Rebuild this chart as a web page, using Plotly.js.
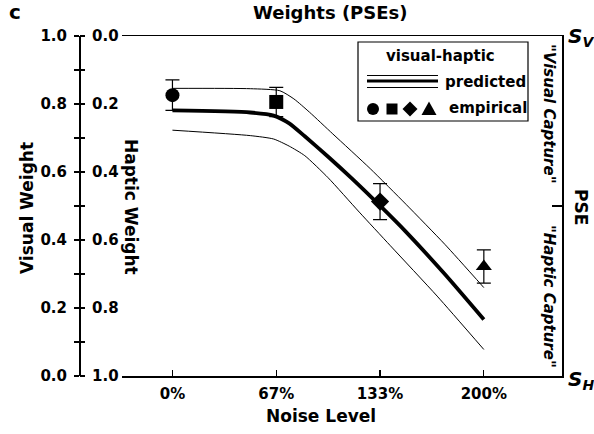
<!DOCTYPE html>
<html>
<head>
<meta charset="utf-8">
<script src="https://cdn.plot.ly/plotly-3.0.1.min.js"></script>
<style>html,body{margin:0;padding:0;background:#fff;}</style>
</head>
<body>
<div id="chart" style="width:594px;height:434px;"></div>
<script>
// ---- data ----
const noiseTickVals = [0, 66.67, 133.33, 200];
const noiseTickText = ['0%', '67%', '133%', '200%'];

// predicted visual weight (thick = mean, thin = bounds), noise level in %
const predX      = [0, 50, 65, 75, 85, 100, 115, 133.3, 150, 175, 200];
const predMean   = [0.781, 0.775, 0.766, 0.743, 0.705, 0.645, 0.582, 0.501, 0.424, 0.299, 0.166];
const upperX     = [0, 50, 69, 78, 88, 103, 127, 150, 175, 200];
const predUpper  = [0.846, 0.845, 0.839, 0.815, 0.776, 0.712, 0.610, 0.505, 0.387, 0.260];
const lowerX     = [0, 50, 65, 75, 85, 100, 120, 140, 170, 200];
const predLower  = [0.723, 0.707, 0.697, 0.676, 0.648, 0.583, 0.482, 0.383, 0.235, 0.078];

// empirical visual weight
const empX       = [0, 66.67, 133.33, 200];
const empY       = [0.826, 0.806, 0.513, 0.322];
const empErr     = [0.045, 0.043, 0.053, 0.049];
const empSymbols = ['circle', 'square', 'diamond', 'triangle-up'];

// ---- layout helpers (pixel -> paper) ----
const W = 594, H = 434;
const M = {l: 79, r: 32, t: 36, b: 58};
const PW = W - M.l - M.r, PH = H - M.t - M.b;
const px = x => (x - M.l) / PW;
const py = y => (H - M.b - y) / PH;

const FONT = '"DejaVu Sans", sans-serif';
const bold = (size) => ({family: FONT, size: size, color: '#000', weight: 'bold'});
const boldIt = (size) => ({family: FONT, size: size, color: '#000', weight: 'bold', style: 'italic'});

const smooth = {shape: 'spline', smoothing: 0.6};
const traces = [
  {x: upperX, y: predUpper, mode: 'lines', line: Object.assign({color: '#000', width: 1}, smooth), hoverinfo: 'skip'},
  {x: lowerX, y: predLower, mode: 'lines', line: Object.assign({color: '#000', width: 1}, smooth), hoverinfo: 'skip'},
  {x: predX, y: predMean, mode: 'lines', line: Object.assign({color: '#000', width: 3.8}, smooth), hoverinfo: 'skip'},
  {x: empX, y: empY, mode: 'markers',
   marker: {symbol: empSymbols, size: 14, color: '#000'},
   error_y: {type: 'data', array: empErr, visible: true, color: '#000', thickness: 1.2, width: 7}}
];

function ann(text, x, y, font, extra) {
  return Object.assign({text: text, x: px(x), y: py(y), xref: 'paper', yref: 'paper',
    showarrow: false, font: font, xanchor: 'center', yanchor: 'middle'}, extra || {});
}

const annotations = [
  ann('c', 15, 12, bold(20)),
  ann('Weights (PSEs)', 330, 12, bold(18)),
  ann('Visual Weight', 27, 208, bold(17), {textangle: -90}),
  ann('Haptic Weight', 131, 207, bold(17), {textangle: 90}),
  ann('Noise Level', 321, 416, bold(17)),
  ann('S<sub>V</sub>', 581, 37, boldIt(20)),
  ann('S<sub>H</sub>', 581, 380, boldIt(20)),
  ann('PSE', 581, 207, bold(17), {textangle: 90}),
  ann('"Visual Capture"', 549, 114, boldIt(15), {textangle: 90}),
  ann('"Haptic Capture"', 549, 296, boldIt(15), {textangle: 90}),
  ann('visual-haptic', 440, 56, bold(15)),
  ann('predicted', 443, 82, bold(15), {xanchor: 'left'}),
  ann('empirical', 447, 108, bold(15), {xanchor: 'left'})
];

function line(x0, y0, x1, y1, w) {
  return {type: 'line', xref: 'paper', yref: 'paper', x0: px(x0), y0: py(y0), x1: px(x1), y1: py(y1),
          line: {color: '#000', width: w}};
}
function fillPath(pts) {
  const d = 'M ' + pts.map(p => px(p[0]) + ',' + py(p[1])).join(' L ') + ' Z';
  return {type: 'path', xref: 'paper', yref: 'paper', path: d, fillcolor: '#000', line: {color: '#000', width: 0}};
}
const shapes = [
  {type: 'rect', xref: 'paper', yref: 'paper', x0: px(358), x1: px(528), y0: py(121), y1: py(42),
   line: {color: '#000', width: 1.2}, fillcolor: '#fff'},
  line(367, 75.5, 438, 75.5, 1),
  line(367, 81, 438, 81, 3),
  line(367, 87.5, 438, 87.5, 1),
  {type: 'circle', xref: 'paper', yref: 'paper', x0: px(367), x1: px(379), y0: py(115), y1: py(103),
   fillcolor: '#000', line: {color: '#000', width: 0}},
  fillPath([[386.5, 103.5], [397.5, 103.5], [397.5, 114.5], [386.5, 114.5]]),
  fillPath([[410, 101.5], [417.5, 109], [410, 116.5], [402.5, 109]]),
  fillPath([[429, 101.5], [436.5, 115], [421.5, 115]])
];

const tickFont = bold(15);
const layout = {
  width: W, height: H, margin: M,
  paper_bgcolor: '#fff', plot_bgcolor: 'rgba(0,0,0,0)',
  showlegend: false,
  font: {family: FONT, color: '#000'},
  xaxis: {
    domain: [px(122), 1], range: [-32.4, 250.2],
    tickvals: noiseTickVals, ticktext: noiseTickText,
    ticks: 'inside', ticklen: 6, tickwidth: 1.2, tickcolor: '#000',
    ticklabelstandoff: 3,
    showline: true, mirror: true, linecolor: '#000', linewidth: 1.5,
    showgrid: false, zeroline: false, tickfont: tickFont
  },
  yaxis: {
    anchor: 'free', position: 0, side: 'left', range: [0, 1],
    dtick: 0.2, tick0: 0, tickformat: '.1f',
    ticks: 'outside', ticklen: 5, tickwidth: 1.2, tickcolor: '#000',
    ticklabelstandoff: 4,
    minor: {dtick: 0.1, ticks: 'outside', ticklen: 5, tickwidth: 1.2, tickcolor: '#000'},
    showline: true, linecolor: '#000', linewidth: 1.5,
    showgrid: false, zeroline: false, tickfont: tickFont
  },
  yaxis2: {
    overlaying: 'y', anchor: 'free', position: 0, side: 'right', range: [1, 0],
    dtick: 0.2, tick0: 0, tickformat: '.1f',
    ticks: 'outside', ticklen: 5, tickwidth: 1.2, tickcolor: '#000',
    ticklabelstandoff: 4,
    minor: {dtick: 0.1, ticks: 'outside', ticklen: 5, tickwidth: 1.2, tickcolor: '#000'},
    showline: false, showgrid: false, zeroline: false, tickfont: tickFont
  },
  yaxis3: {
    overlaying: 'y', anchor: 'x', side: 'right', range: [0, 1],
    tickvals: [0.5], ticks: 'inside', ticklen: 10, tickwidth: 1.2, tickcolor: '#000',
    showticklabels: false, showline: true, linecolor: '#000', linewidth: 1.5,
    showgrid: false, zeroline: false
  },
  annotations: annotations,
  shapes: shapes
};

// invisible helper traces so yaxis2 / yaxis3 are drawn
traces.push({x: [0], y: [0.5], yaxis: 'y2', mode: 'markers', marker: {opacity: 0}, hoverinfo: 'skip'});
traces.push({x: [0], y: [0.5], yaxis: 'y3', mode: 'markers', marker: {opacity: 0}, hoverinfo: 'skip'});

Plotly.newPlot('chart', traces, layout, {staticPlot: true, displayModeBar: false});
</script>
</body>
</html>
